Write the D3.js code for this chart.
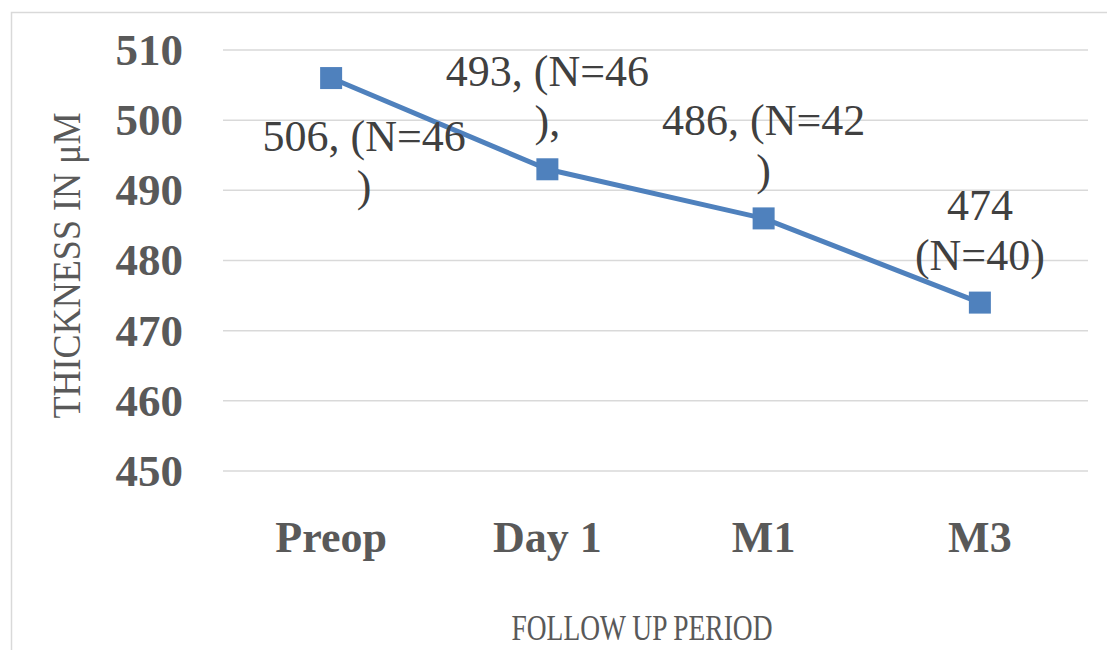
<!DOCTYPE html>
<html>
<head>
<meta charset="utf-8">
<script src="https://cdn.jsdelivr.net/npm/d3@7"></script>
<style>
  body { margin: 0; background: #fff; }
  svg { display: block; }
</style>
</head>
<body>
<div id="chart"></div>
<script>
// data
const periods = ["Preop", "Day 1", "M1", "M3"];
const thickness = [506, 493, 486, 474];
const labelLines = [
  ["506, (N=46", ")"],
  ["493, (N=46", "),"],
  ["486, (N=42", ")"],
  ["474", "(N=40)"]
];
const yTicks = [450, 460, 470, 480, 490, 500, 510];

// where each data label sits relative to its point
const labelSide = ["below", "above", "above", "above"];

const width = 1107;
const height = 650;
const margin = { top: 50, right: 19, bottom: 179, left: 223 };

const svg = d3.select("#chart")
  .append("svg")
  .attr("width", width)
  .attr("height", height);

// outer chart frame
svg.append("rect")
  .attr("x", 11.5)
  .attr("y", 12.5)
  .attr("width", 1200)
  .attr("height", 800)
  .attr("fill", "none")
  .attr("stroke", "#d9d9d9")
  .attr("stroke-width", 1.5);

const x = d3.scaleBand()
  .domain(periods)
  .range([margin.left, width - margin.right]);

const y = d3.scaleLinear()
  .domain([450, 510])
  .range([height - margin.bottom, margin.top]);

const cx = d => x(d) + x.bandwidth() / 2;

// gridlines
svg.append("g")
  .selectAll("line")
  .data(yTicks)
  .enter()
  .append("line")
  .attr("x1", margin.left)
  .attr("x2", width - margin.right)
  .attr("y1", d => y(d))
  .attr("y2", d => y(d))
  .attr("stroke", "#d9d9d9")
  .attr("stroke-width", 1.5);

// y tick labels
const yAxis = svg.append("g")
  .attr("transform", `translate(${margin.left - 40},0)`)
  .call(d3.axisLeft(y).tickValues(yTicks).tickSize(0).tickPadding(0));
yAxis.select(".domain").remove();
yAxis.selectAll("text")
  .attr("font-family", "'Liberation Serif', serif")
  .attr("font-weight", "bold")
  .attr("font-size", 45)
  .attr("fill", "#595959");

// x category labels
const xAxis = svg.append("g")
  .attr("transform", `translate(0,${y(450)})`)
  .call(d3.axisBottom(x).tickSize(0).tickPadding(0));
xAxis.select(".domain").remove();
xAxis.selectAll("text")
  .attr("dy", null)
  .attr("y", 81)
  .attr("font-family", "'Liberation Serif', serif")
  .attr("font-weight", "bold")
  .attr("font-size", 44)
  .attr("fill", "#595959");

// series line
const line = d3.line()
  .x((d, i) => cx(periods[i]))
  .y(d => y(d));

svg.append("path")
  .datum(thickness)
  .attr("d", line)
  .attr("fill", "none")
  .attr("stroke", "#4f81bd")
  .attr("stroke-width", 5)
  .attr("stroke-linejoin", "round");

// square markers
const ms = 22;
svg.append("g")
  .selectAll("rect")
  .data(thickness)
  .enter()
  .append("rect")
  .attr("x", (d, i) => cx(periods[i]) - ms / 2)
  .attr("y", d => y(d) - ms / 2)
  .attr("width", ms)
  .attr("height", ms)
  .attr("fill", "#4f81bd");

// data labels
const lh = 50;
const labels = svg.append("g")
  .attr("font-family", "'Liberation Serif', serif")
  .attr("font-size", 44)
  .attr("fill", "#404040")
  .attr("text-anchor", "middle");

thickness.forEach((v, i) => {
  const lines = labelLines[i];
  const px = cx(periods[i]);
  const py = y(v);
  let x0, y0;
  if (labelSide[i] === "below") {
    x0 = px + 33;
    y0 = py + 73;
  } else {
    x0 = px;
    y0 = py - 33 - lh * (lines.length - 1);
  }
  const t = labels.append("text");
  lines.forEach((s, j) => {
    t.append("tspan")
      .attr("x", x0)
      .attr("y", y0 + j * lh)
      .text(s);
  });
});

// axis titles
svg.append("text")
  .attr("transform", `translate(80,${(y(450) + y(510)) / 2 + 5}) rotate(-90)`)
  .attr("text-anchor", "middle")
  .attr("font-family", "'Liberation Serif', serif")
  .attr("font-size", 40)
  .attr("fill", "#595959")
  .attr("textLength", 306)
  .attr("lengthAdjust", "spacingAndGlyphs")
  .text("THICKNESS IN μM");

svg.append("text")
  .attr("x", 642)
  .attr("y", 640)
  .attr("text-anchor", "middle")
  .attr("font-family", "'Liberation Serif', serif")
  .attr("font-size", 36)
  .attr("fill", "#595959")
  .attr("textLength", 261)
  .attr("lengthAdjust", "spacingAndGlyphs")
  .text("FOLLOW UP PERIOD");
</script>
</body>
</html>
